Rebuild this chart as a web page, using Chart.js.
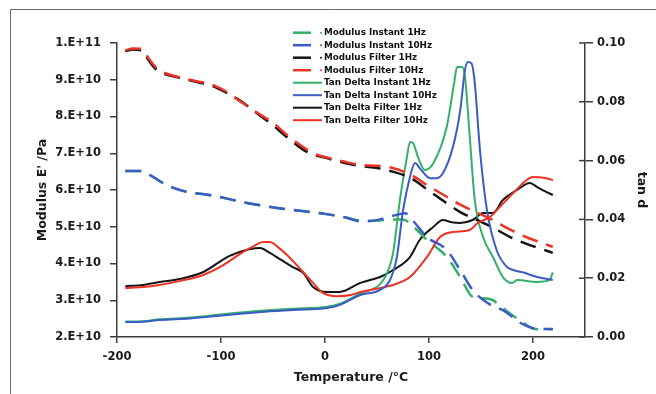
<!DOCTYPE html>
<html>
<head>
<meta charset="utf-8">
<script src="https://cdn.jsdelivr.net/npm/chart.js@4/dist/chart.umd.min.js"></script>
<style>
  html, body { margin: 0; padding: 0; background: #fff; }
  #wrap { width: 656px; height: 394px; }
</style>
</head>
<body>
<div id="wrap"><canvas id="myChart" width="656" height="394"></canvas></div>
<script>
// temperatures in °C, modulus values in units of 1e10 Pa
const modInst1T = [-192, -178, -165, -156, -145, -133, -110, -79, -46, -20, 0, 20, 38, 52, 65, 75, 85, 98, 117, 130, 142, 150, 160, 175, 190, 200, 210, 219];
const modInst1 = [6.52, 6.52, 6.35, 6.19, 6.05, 5.95, 5.86, 5.67, 5.51, 5.42, 5.35, 5.25, 5.16, 5.17, 5.2, 5.2, 5.0, 4.64, 4.18, 3.63, 3.09, 3.06, 3.02, 2.7, 2.4, 2.23, 2.21, 2.21];

const modInst10T = [-192, -178, -165, -156, -145, -133, -110, -79, -46, -20, 0, 20, 35, 50, 62, 70, 77, 85, 98, 117, 130, 142, 156, 171, 180, 188, 200, 210, 219];
const modInst10 = [6.52, 6.52, 6.35, 6.19, 6.05, 5.95, 5.86, 5.67, 5.51, 5.42, 5.35, 5.25, 5.14, 5.18, 5.27, 5.33, 5.37, 5.15, 4.72, 4.37, 3.82, 3.28, 2.93, 2.73, 2.55, 2.38, 2.24, 2.22, 2.22];

const modFilt1T = [-192, -185, -176, -170, -163, -155, -140, -125, -110, -95, -80, -65, -50, -35, -20, -10, 0, 17, 35, 50, 65, 82, 100, 115, 130, 145, 160, 178, 195, 210, 219];
const modFilt1 = [9.78, 9.82, 9.8, 9.55, 9.3, 9.17, 9.05, 8.95, 8.85, 8.65, 8.4, 8.08, 7.76, 7.4, 7.08, 6.95, 6.88, 6.75, 6.65, 6.6, 6.5, 6.33, 5.98, 5.68, 5.4, 5.2, 5.0, 4.72, 4.52, 4.38, 4.29];

const modFilt10T = [-192, -185, -176, -170, -163, -155, -140, -125, -110, -95, -80, -65, -50, -35, -20, -10, 0, 17, 35, 50, 65, 82, 100, 115, 130, 145, 160, 178, 195, 210, 219];
const modFilt10 = [9.8, 9.85, 9.84, 9.6, 9.35, 9.2, 9.07, 8.97, 8.88, 8.68, 8.38, 8.1, 7.83, 7.46, 7.15, 6.98, 6.9, 6.78, 6.68, 6.66, 6.6, 6.42, 6.1, 5.85, 5.6, 5.4, 5.2, 4.92, 4.7, 4.55, 4.45];

// tan delta values
const tanInst1T = [-192, -175, -159, -130, -94, -62, -31, 2, 14, 34, 53, 60, 65.5, 72, 78.8, 81.7, 84.6, 89.4, 96, 104, 117, 124, 127, 131.7, 134.6, 139, 144, 152, 161.5, 171, 180, 184.6, 204, 216, 219];
const tanInst1 = [0.0053, 0.0054, 0.006, 0.0066, 0.0079, 0.0089, 0.0096, 0.0103, 0.0113, 0.0148, 0.018, 0.022, 0.0286, 0.0466, 0.0612, 0.0663, 0.066, 0.0612, 0.0568, 0.059, 0.0714, 0.086, 0.0918, 0.0918, 0.0884, 0.069, 0.0466, 0.034, 0.0272, 0.0204, 0.0184, 0.0194, 0.0187, 0.0194, 0.022];

const tanInst10T = [-192, -175, -159, -130, -94, -62, -31, 2, 14, 34, 53, 62.5, 69, 75, 81.7, 86.5, 92, 101, 107, 113.5, 123, 130, 134.6, 137.5, 141, 144, 149, 155.8, 165, 175, 181, 190, 204, 219];
const tanInst10 = [0.0051, 0.0052, 0.0058, 0.0063, 0.0075, 0.0085, 0.0092, 0.0099, 0.0109, 0.0143, 0.016, 0.0194, 0.027, 0.043, 0.0544, 0.0592, 0.057, 0.054, 0.054, 0.0558, 0.0646, 0.077, 0.0908, 0.0935, 0.093, 0.0864, 0.0636, 0.043, 0.0296, 0.0238, 0.0228, 0.022, 0.0204, 0.0194];

const tanFilt1T = [-192, -175, -159, -140, -117, -94, -82, -72, -62.5, -53, -42, -31, -21, -11.5, 2, 14, 34, 53, 65.5, 81.7, 91, 104, 113.5, 122, 130, 142, 152, 161.5, 171, 184.6, 197, 204, 213, 219];
const tanFilt1 = [0.0173, 0.0177, 0.0187, 0.0197, 0.0221, 0.0272, 0.0289, 0.0299, 0.0303, 0.0286, 0.0262, 0.0238, 0.0218, 0.017, 0.0153, 0.0153, 0.0184, 0.0204, 0.0228, 0.0272, 0.033, 0.0374, 0.0398, 0.039, 0.0388, 0.0398, 0.0422, 0.0422, 0.0466, 0.05, 0.0524, 0.051, 0.0493, 0.0483];

const tanFilt10T = [-192, -175, -159, -140, -117, -100, -79, -68, -59.6, -53, -45, -36.5, -21, -11.5, -2, 11.5, 25, 34, 53, 65.5, 81.7, 98, 110.6, 123, 139, 147, 158.6, 168, 181, 194, 200, 213, 219];
const tanFilt10 = [0.0167, 0.017, 0.0177, 0.019, 0.0211, 0.024, 0.0289, 0.031, 0.0323, 0.0323, 0.0305, 0.0279, 0.0221, 0.0184, 0.015, 0.0139, 0.0143, 0.0153, 0.0167, 0.0177, 0.0204, 0.0272, 0.034, 0.0357, 0.0364, 0.0388, 0.0408, 0.0442, 0.049, 0.0534, 0.0544, 0.054, 0.0534];

const xTicks = [-200, -100, 0, 100, 200];
const yTicks = [2e10, 3e10, 4e10, 5e10, 6e10, 7e10, 8e10, 9e10, 1e11];
const y1Ticks = [0, 0.02, 0.04, 0.06, 0.08, 0.1];

const GREEN = "#35b06a";
const BLUE = "#3a5cc4";
const BLACK = "#141414";
const RED = "#ee3326";
const AXIS = "#3c3c3c";
const FONT = "'DejaVu Sans', Verdana, sans-serif";

function points(xs, ys, scale) {
    return xs.map((x, i) => ({ x: x, y: ys[i] * scale }));
}

// blue and red are drawn over green and black, as in the original
function modulusSet(label, color, xs, ys, order) {
    return {
        label: label,
        data: points(xs, ys, 1e10),
        borderColor: color,
        backgroundColor: color,
        borderWidth: 2.5,
        borderDash: [16, 9],
        yAxisID: "y",
        order: order,
        dashed: true,
    };
}

function tanSet(label, color, xs, ys, order) {
    return {
        label: label,
        data: points(xs, ys, 1),
        borderColor: color,
        backgroundColor: color,
        borderWidth: 2,
        yAxisID: "y1",
        order: order,
        dashed: false,
    };
}

function sci(v) {
    const e = Math.floor(Math.log10(v) + 1e-9);
    const m = Math.round(v / Math.pow(10, e));
    return `${m}.E+${e}`;
}

// frame, crossing ticks on the right axis, and the legend inside the plot
const extras = {
    id: "extras",
    afterDraw(chart) {
        const ctx = chart.ctx;
        ctx.save();

        ctx.strokeStyle = "#6a6a6a";
        ctx.lineWidth = 1;
        ctx.beginPath();
        ctx.moveTo(10.5, 394);
        ctx.lineTo(10.5, 9.5);
        ctx.lineTo(656, 9.5);
        ctx.stroke();

        const y1 = chart.scales.y1;
        ctx.strokeStyle = AXIS;
        ctx.lineWidth = 1.5;
        y1Ticks.forEach((v) => {
            const py = y1.getPixelForValue(v);
            ctx.beginPath();
            ctx.moveTo(y1.left - 6, py);
            ctx.lineTo(y1.left, py);
            ctx.stroke();
        });

        ctx.font = `bold 8.8px ${FONT}`;
        ctx.textBaseline = "middle";
        ctx.textAlign = "left";
        chart.data.datasets.forEach((ds, i) => {
            const y = 32.7 + i * 12.5;
            ctx.strokeStyle = ds.borderColor;
            ctx.lineWidth = ds.dashed ? 2.5 : 2;
            ctx.setLineDash([]);
            ctx.beginPath();
            if (ds.dashed) {
                ctx.moveTo(293, y);
                ctx.lineTo(311, y);
            } else {
                ctx.moveTo(293, y);
                ctx.lineTo(322, y);
            }
            ctx.stroke();
            if (ds.dashed) {
                ctx.fillStyle = ds.borderColor;
                ctx.beginPath();
                ctx.arc(321, y, 1, 0, Math.PI * 2);
                ctx.fill();
            }
            ctx.fillStyle = "#111";
            ctx.fillText(ds.label, 324, y + 0.5);
        });

        ctx.restore();
    },
};

const datasets = [
    modulusSet("Modulus Instant 1Hz", GREEN, modInst1T, modInst1, 2),
    modulusSet("Modulus Instant 10Hz", BLUE, modInst10T, modInst10, 1),
    modulusSet("Modulus Filter 1Hz", BLACK, modFilt1T, modFilt1, 2),
    modulusSet("Modulus Filter 10Hz", RED, modFilt10T, modFilt10, 1),
    tanSet("Tan Delta Instant 1Hz", GREEN, tanInst1T, tanInst1, 2),
    tanSet("Tan Delta Instant 10Hz", BLUE, tanInst10T, tanInst10, 1),
    tanSet("Tan Delta Filter 1Hz", BLACK, tanFilt1T, tanFilt1, 2),
    tanSet("Tan Delta Filter 10Hz", RED, tanFilt10T, tanFilt10, 1),
];

const tickFont = { family: FONT, size: 11.5, weight: "bold" };
const titleFont = { family: FONT, size: 12.5, weight: "bold" };

const chart = new Chart(document.getElementById("myChart").getContext("2d"), {
    type: "line",
    data: { datasets: datasets },
    plugins: [extras],
    options: {
        responsive: false,
        animation: false,
        layout: { padding: { top: 43, left: 0, right: 0, bottom: 0 } },
        elements: {
            point: { radius: 0, hoverRadius: 0 },
            line: { cubicInterpolationMode: "monotone" },
        },
        plugins: {
            legend: { display: false },
            tooltip: { enabled: false },
        },
        scales: {
            x: {
                type: "linear",
                min: -200,
                max: 250,
                afterBuildTicks: (s) => { s.ticks = xTicks.map((v) => ({ value: v })); },
                afterFit: (s) => { s.height = 57; },
                ticks: { font: tickFont, color: "#1a1a1a", padding: 7, maxRotation: 0 },
                grid: { drawOnChartArea: false, tickLength: 6, color: AXIS, lineWidth: 1.5 },
                border: { color: AXIS, width: 1.5 },
                title: { display: true, text: "Temperature /°C", font: titleFont, color: "#1a1a1a", padding: { top: 0, bottom: 9 } },
            },
            y: {
                type: "linear",
                position: "left",
                min: 2e10,
                max: 1e11,
                afterBuildTicks: (s) => { s.ticks = yTicks.map((v) => ({ value: v })); },
                afterFit: (s) => { s.width = 117; },
                ticks: { font: tickFont, color: "#1a1a1a", padding: 9, callback: (v) => sci(v) },
                grid: { drawOnChartArea: false, tickLength: 7, color: AXIS, lineWidth: 1.5 },
                border: { color: AXIS, width: 1.5 },
                title: { display: true, text: "Modulus E' /Pa", font: titleFont, color: "#1a1a1a", padding: { top: 35, bottom: 0 } },
            },
            y1: {
                type: "linear",
                position: "right",
                min: 0,
                max: 0.1,
                afterBuildTicks: (s) => { s.ticks = y1Ticks.map((v) => ({ value: v })); },
                afterFit: (s) => { s.width = 71; },
                ticks: { font: tickFont, color: "#1a1a1a", padding: 4, callback: (v) => v.toFixed(2) },
                grid: { drawOnChartArea: false, tickLength: 8, color: AXIS, lineWidth: 1.5 },
                border: { color: AXIS, width: 1.5 },
                title: { display: true, text: "tan d", font: titleFont, color: "#1a1a1a", padding: { top: 7, bottom: 0 } },
            },
        },
    },
});
</script>
</body>
</html>
